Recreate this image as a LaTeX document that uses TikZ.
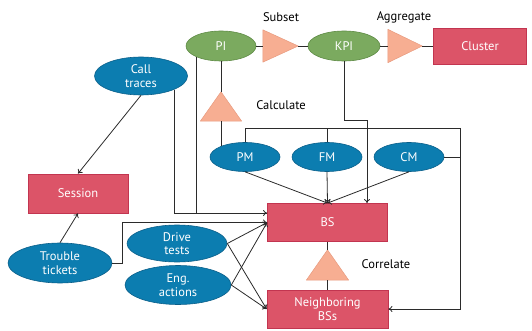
\documentclass[tikz,border=0pt]{standalone}
\usepackage{fontspec}
\setmainfont{PT Sans}
\usetikzlibrary{shapes.geometric,arrows.meta}

\definecolor{blueF}{HTML}{0C7DB0}
\definecolor{blueD}{HTML}{0A5F8A}
\definecolor{greenF}{HTML}{7BAA5F}
\definecolor{greenD}{HTML}{5E8B45}
\definecolor{pinkF}{HTML}{DC5468}
\definecolor{pinkD}{HTML}{C23550}
\definecolor{triF}{HTML}{F7AE92}
\definecolor{triD}{HTML}{E89A7E}
\definecolor{wire}{HTML}{2B2B2B}

\begin{document}
\begin{tikzpicture}[x=1pt, y=-1pt, font=\fontsize{12.5}{13.5}\selectfont]
      \useasboundingbox (0,0) rectangle (532,331);
      \tikzstyle{every node}=[inner sep=0pt, align=center, text=white]
      \tikzstyle{src}=[ellipse, draw=blueD, fill=blueF, line width=0.6pt]
      \tikzstyle{ind}=[ellipse, draw=greenD, fill=greenF, line width=0.6pt,
        minimum height=30pt]
      \tikzstyle{obj}=[rectangle, draw=pinkD, fill=pinkF, line width=0.8pt]
      \tikzstyle{op}=[rectangle]
      \tikzstyle{tri}=[draw=triD, fill=triF, line width=0.5pt, line join=round]
      \tikzstyle{lbl}=[text=black]
      \tikzstyle{wire}=[draw=wire, line width=0.8pt]
      \tikzstyle{arr}=[wire, -{To[length=4pt, width=6pt]}]

      % top row
      \path (221,46) node[ind, minimum width=70pt] (PI) {PI};
      \path (280.5,46) node[op, minimum width=35pt, minimum height=32pt] (sub) {};
      \path (344,46) node[ind, minimum width=72pt] (KPI) {KPI};
      \path (405,46) node[op, minimum width=34pt, minimum height=33pt] (agg) {};
      \path (480,46) node[obj, minimum width=93pt, minimum height=36pt] (cluster) {Cluster};
      \path (281,17) node[lbl] {Subset};
      \path (404,17) node[lbl] {Aggregate};

      % measurements
      \path (221,106.5) node[op, minimum width=41pt, minimum height=29pt] (calc) {};
      \path (281,105) node[lbl] {Calculate};
      \foreach \m/\x in {PM/245, FM/327, CM/409}
      {
        \path (\x,157) node[src, minimum width=70pt, minimum height=29pt] (\m) {\m};
      }

      % left side
      \path (141,76) node[src, minimum width=93pt, minimum height=38pt] (calls) {Call\\traces};
      \path (78,193.5) node[obj, minimum width=100pt, minimum height=39pt] (session) {Session};
      \path (60,263) node[src, minimum width=104pt, minimum height=40pt] (tickets) {Trouble\\tickets};
      \path (177,243.5) node[src, minimum width=100pt, minimum height=37pt] (drive) {Drive\\tests};
      \path (178,285) node[src, minimum width=106pt, minimum height=39pt] (eng) {Eng.\\actions};

      % base stations
      \path (327.5,222.5) node[obj, minimum width=120pt, minimum height=38pt] (BS) {BS};
      \path (327.5,265) node[op, minimum width=42pt, minimum height=30pt] (corr) {};
      \path (386,264) node[lbl] {Correlate};
      \path (327.5,309) node[obj, minimum width=121pt, minimum height=38pt] (NBS) {Neighboring\\BSs};

      % triangles
      \foreach \t in {sub, agg}
        \draw [tri] (\t.north west) -- (\t.east) -- (\t.south west) -- cycle;
      \foreach \t in {calc, corr}
        \draw [tri] (\t.south west) -- (\t.north) -- (\t.south east) -- cycle;

      \coordinate (bus) at (460,128);
      \coordinate (kink) at (367,120);
      \coordinate (bsIn) at ([yshift=9.5pt]BS.west);

      \draw [wire]
        (PI) -- (sub.west)
        (sub.east) -- (KPI)
        (KPI) -- (agg.west)
        (agg.east) -- (cluster)
        (PI.south) -- (calc.north)
        (calc.south) -- (calc.south |- PM.153)
        (PM.north) |- (bus)
        (FM.north) -- (FM.north |- bus)
        (CM.east) -- (CM.east -| bus)
        (calls.338) |- (bsIn)
        (BS.south) -- (corr.north)
        (corr.south) -- (NBS.north);

      \draw [arr] (bus) |- (NBS.east);
      \draw [arr] (KPI.south) |- (kink) -- (kink |- BS.north);
      \draw [arr] (PI.204) |- (bsIn);
      \draw [arr] (calls.south) -- (session.north);
      \draw [arr] (tickets.north) -- (session.south);
      \draw [arr] (tickets.east) -- ++(10,0) |- (BS.west);
      \foreach \s in {drive, eng}
      {
        \draw [arr] (\s.east) -- (BS.west);
        \draw [arr] (\s.east) -- (NBS.west);
      }
      \foreach \m in {PM, FM, CM}
      {
        \draw [arr] (\m.south) -- (BS.north);
      }
    \end{tikzpicture}
\end{document}
